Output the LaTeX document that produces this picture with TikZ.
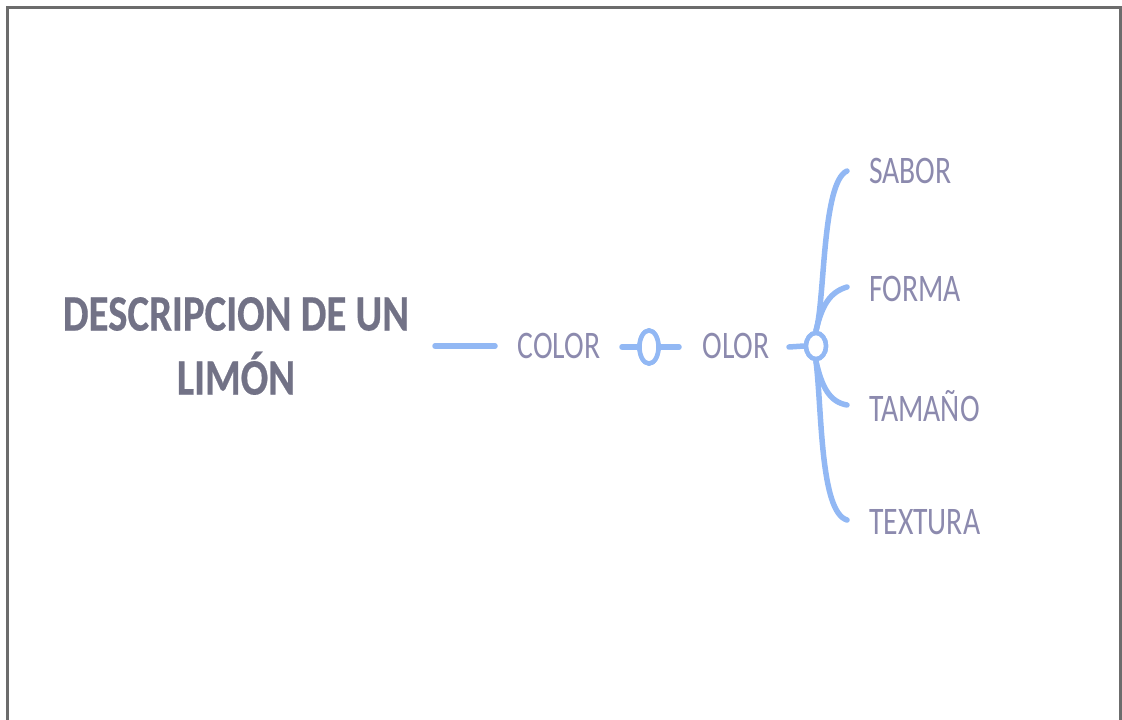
\documentclass[tikz,border=0pt]{standalone}
\usepackage{fontspec}
\usetikzlibrary{shapes.geometric}
\newfontfamily\titlefont[FakeStretch=0.80,FakeBold=0.4]{Carlito}
\newfontfamily\labelfont[FakeStretch=0.76]{Carlito}
\definecolor{framegray}{HTML}{6C6C6C}
\definecolor{titlegray}{HTML}{727286}
\definecolor{labelgray}{HTML}{8C8AAE}
\definecolor{linkblue}{HTML}{92B8F4}
\tikzset{
  link/.style={draw=linkblue, line width=5.5pt, line cap=round},
  knot/.style={ellipse, draw=linkblue, line width=4.5pt, inner sep=0pt, fill=white},
  lbl/.style={font=\labelfont\fontsize{39}{44}\selectfont, text=labelgray, inner sep=0pt},
  ttl/.style={font=\titlefont\bfseries\fontsize{51}{64}\selectfont, text=titlegray, align=center, inner sep=0pt}
}
\begin{document}
\begin{tikzpicture}[x=1pt, y=-1pt]
\useasboundingbox (0,0) rectangle (1122,720);
\draw[framegray, line width=3pt] (7,720) -- (7,7) -- (1120,7) -- (1120,720);

\node[ttl] (title) at (236,346) {DESCRIPCION DE UN\\LIMÓN};

\coordinate (l0) at (435,346);
\coordinate (l1) at (495,346);
\draw[link] (l0) -- (l1);

\node[lbl] (color) at (559,346) {COLOR};
\node[knot, minimum width=19pt, minimum height=33pt] (k1) at (649,347) {};
\coordinate (k1a) at (622,347);
\coordinate (k1b) at (679,347);
\draw[link] (k1a) -- (k1.west);
\draw[link] (k1.east) -- (k1b);
\node[knot, minimum width=19pt, minimum height=33pt] at (k1) {};

\node[lbl] (olor) at (736,346) {OLOR};
\coordinate (k2a) at (789,347);
\node[knot, minimum width=20pt, minimum height=26pt] (k2) at (816,346) {};
\draw[link] (k2a) -- (k2.west);

\coordinate (eS) at (847,171);
\coordinate (eF) at (847,287);
\coordinate (eT) at (847,405);
\coordinate (eX) at (847,520);

\draw[link] (k2.north) .. controls (825,300) and (822,182) .. (eS);
\draw[link] (k2.north) .. controls (822,305) and (830,292) .. (eF);
\draw[link] (k2.south) .. controls (822,388) and (830,402) .. (eT);
\draw[link] (k2.south) .. controls (822,410) and (820,512) .. (eX);
\node[knot, minimum width=20pt, minimum height=26pt] at (k2) {};

\node[lbl, anchor=west] (sabor) at (869,171) {SABOR};
\node[lbl, anchor=west] (forma) at (869,289) {FORMA};
\node[lbl, anchor=west] (tamano) at (869,406) {TAMAÑO};
\node[lbl, anchor=west] (textura) at (869,522) {TEXTURA};
\end{tikzpicture}
\end{document}
